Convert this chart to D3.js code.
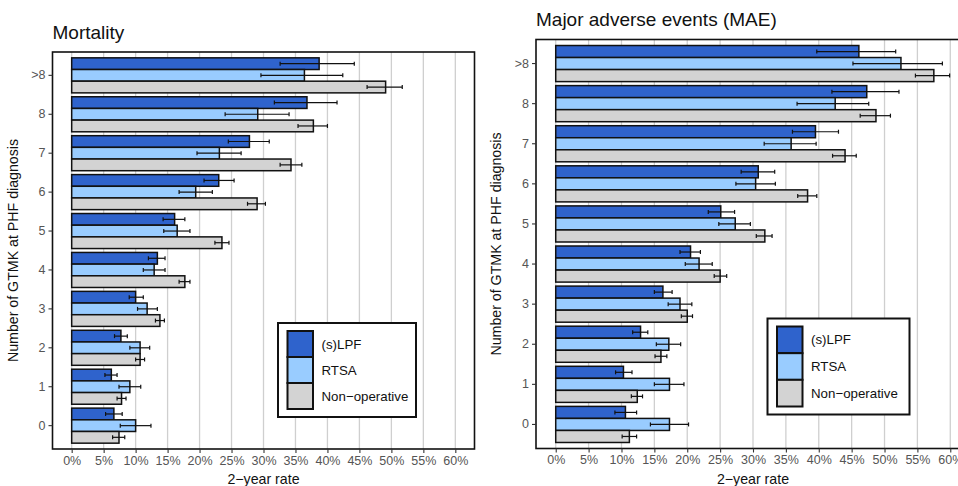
<!DOCTYPE html>
<html>
<head>
<meta charset="utf-8">
<script src="https://cdn.jsdelivr.net/npm/d3@7"></script>
<style>
  html, body { margin: 0; padding: 0; background: #fff; }
  svg { display: block; font-family: "Liberation Sans", Arial, sans-serif; }
</style>
</head>
<body>
<svg id="chart" width="958" height="486"></svg>
<script>
// GTMK count at PHF diagnosis, top row first
const categories = [">8", "8", "7", "6", "5", "4", "3", "2", "1", "0"];
const groups = ["(s)LPF", "RTSA", "Non\u2212operative"];
const xTicks = [0, 5, 10, 15, 20, 25, 30, 35, 40, 45, 50, 55, 60];

// Mortality: 2-year rate (%) with confidence limits
const mortLPF    = [38.7, 36.8, 27.8, 23.0, 16.1, 13.4, 10.0, 7.7, 6.2, 6.6];
const mortLPFLo  = [32.6, 31.7, 24.5, 20.7, 14.3, 12.0, 9.0, 6.7, 5.2, 5.3];
const mortLPFHi  = [44.2, 41.5, 30.9, 25.4, 17.7, 14.6, 11.2, 8.7, 7.1, 7.9];
const mortRTSA   = [36.4, 29.1, 23.1, 19.4, 16.5, 12.9, 11.8, 10.7, 9.1, 10.0];
const mortRTSALo = [29.6, 24.0, 19.6, 16.8, 14.4, 11.2, 10.3, 9.1, 7.4, 7.6];
const mortRTSAHi = [42.4, 34.0, 26.5, 22.0, 18.5, 14.6, 13.4, 12.2, 10.8, 12.4];
const mortNon    = [49.1, 37.8, 34.3, 29.0, 23.5, 17.7, 13.8, 10.7, 7.8, 7.4];
const mortNonLo  = [46.2, 35.4, 32.6, 27.5, 22.4, 16.8, 13.1, 10.0, 7.1, 6.4];
const mortNonHi  = [51.7, 40.0, 36.0, 30.3, 24.6, 18.5, 14.5, 11.4, 8.5, 8.3];

// Major adverse events: 2-year rate (%) with confidence limits
const maeLPF    = [46.1, 47.3, 39.5, 30.8, 25.1, 20.5, 16.3, 12.9, 10.3, 10.6];
const maeLPFLo  = [39.7, 42.0, 36.0, 28.2, 23.2, 18.9, 15.0, 11.7, 9.1, 9.0];
const maeLPFHi  = [51.7, 52.2, 43.0, 33.3, 27.2, 22.0, 17.7, 14.0, 11.6, 12.3];
const maeRTSA   = [52.5, 42.5, 35.8, 30.4, 27.3, 21.8, 18.9, 17.2, 17.3, 17.3];
const maeRTSALo = [45.2, 36.7, 31.7, 27.4, 24.8, 19.7, 17.1, 15.3, 15.0, 14.4];
const maeRTSAHi = [58.8, 47.6, 39.6, 33.4, 29.6, 23.8, 20.7, 19.0, 19.5, 20.2];
const maeNon    = [57.5, 48.7, 44.0, 38.3, 31.8, 25.0, 20.0, 16.0, 12.4, 11.2];
const maeNonLo  = [54.7, 46.3, 42.1, 36.8, 30.5, 24.1, 19.1, 15.1, 11.5, 10.1];
const maeNonHi  = [59.9, 50.9, 45.7, 39.7, 32.9, 26.0, 20.8, 16.9, 13.2, 12.3];

const colors = ["#2f63cc", "#99ccff", "#d3d3d3"];

function rows(vals, lo, hi) {
  return categories.map((c, i) => ({ cat: c, v: vals[i], lo: lo[i], hi: hi[i] }));
}

const panels = [
  {
    title: "Mortality",
    box: { x0: 52.5, x1: 474.5, y0: 52, y1: 449 },
    titleY: 39,
    yTitleX: 18,
    legend: { x: 278, y: 323, w: 138, h: 94 },
    series: [rows(mortLPF, mortLPFLo, mortLPFHi), rows(mortRTSA, mortRTSALo, mortRTSAHi), rows(mortNon, mortNonLo, mortNonHi)]
  },
  {
    title: "Major adverse events (MAE)",
    box: { x0: 536, x1: 970, y0: 39.5, y1: 448.5 },
    titleY: 26,
    yTitleX: 501,
    legend: { x: 767.5, y: 318.5, w: 142, h: 96 },
    series: [rows(maeLPF, maeLPFLo, maeLPFHi), rows(maeRTSA, maeRTSALo, maeRTSAHi), rows(maeNon, maeNonLo, maeNonHi)]
  }
];

const svg = d3.select("#chart");

panels.forEach(p => {
  const b = p.box;
  const g = svg.append("g");
  const span = (b.x1 - b.x0) / 1.1;          // 5% expansion each side
  const x = d3.scaleLinear().domain([0, 60]).range([b.x0 + span * 0.05, b.x1 - span * 0.05]);
  const y = d3.scaleBand().domain(categories).range([b.y0, b.y1]).paddingInner(0.1).paddingOuter(0.15);
  const ySub = d3.scaleBand().domain(d3.range(groups.length)).range([0, y.bandwidth()]);

  // panel background and vertical grid
  g.append("rect").attr("x", b.x0).attr("y", b.y0).attr("width", b.x1 - b.x0).attr("height", b.y1 - b.y0)
    .attr("fill", "#fff");
  g.append("g").selectAll("line").data(xTicks).join("line")
    .attr("x1", d => x(d)).attr("x2", d => x(d))
    .attr("y1", b.y0).attr("y2", b.y1)
    .attr("stroke", "#cfcfcf").attr("stroke-width", 1.3);

  // bars
  p.series.forEach((s, k) => {
    g.append("g").selectAll("rect").data(s).join("rect")
      .attr("x", x(0))
      .attr("y", d => y(d.cat) + ySub(k))
      .attr("width", d => x(d.v) - x(0))
      .attr("height", ySub.bandwidth())
      .attr("fill", colors[k])
      .attr("stroke", "#111").attr("stroke-width", 1.5);
  });

  // error bars
  p.series.forEach((s, k) => {
    const eg = g.append("g").attr("stroke", "#111").attr("stroke-width", 1.2);
    s.forEach(d => {
      const cy = y(d.cat) + ySub(k) + ySub.bandwidth() / 2;
      eg.append("line").attr("x1", x(d.lo)).attr("x2", x(d.hi)).attr("y1", cy).attr("y2", cy);
      eg.append("line").attr("x1", x(d.lo)).attr("x2", x(d.lo)).attr("y1", cy - 2).attr("y2", cy + 2);
      eg.append("line").attr("x1", x(d.hi)).attr("x2", x(d.hi)).attr("y1", cy - 2).attr("y2", cy + 2);
    });
  });

  // panel border
  g.append("rect").attr("x", b.x0).attr("y", b.y0).attr("width", b.x1 - b.x0).attr("height", b.y1 - b.y0)
    .attr("fill", "none").attr("stroke", "#111").attr("stroke-width", 1.6);

  // axes
  const xAxis = g.append("g").attr("transform", `translate(0,${b.y1})`)
    .call(d3.axisBottom(x).tickValues(xTicks).tickFormat(d => d + "%").tickSize(4).tickPadding(3));
  const yAxis = g.append("g").attr("transform", `translate(${b.x0},0)`)
    .call(d3.axisLeft(y).tickSize(4).tickPadding(3));
  [xAxis, yAxis].forEach(a => {
    a.select(".domain").remove();
    a.selectAll(".tick line").attr("stroke", "#333").attr("stroke-width", 1.1);
    a.selectAll(".tick text").attr("fill", "#555").attr("font-size", 12.5)
      .attr("font-family", "Liberation Sans, Arial, sans-serif");
  });

  // titles
  g.append("text").attr("x", b.x0).attr("y", p.titleY).attr("font-size", 19).attr("fill", "#111")
    .text(p.title);
  g.append("text").attr("x", (b.x0 + Math.min(b.x1, 958 + 12)) / 2 + (p.box.x1 > 958 ? 0 : 0))
    .attr("x", (x(0) + x(60)) / 2)
    .attr("y", 484).attr("text-anchor", "middle").attr("font-size", 14.2).attr("fill", "#111")
    .text("2\u2212year rate");
  g.append("text")
    .attr("transform", `translate(${p.yTitleX},${(b.y0 + b.y1) / 2}) rotate(-90)`)
    .attr("text-anchor", "middle").attr("font-size", 14.2).attr("fill", "#111")
    .text("Number of GTMK at PHF diagnosis");

  // legend
  const L = p.legend;
  const lg = g.append("g");
  lg.append("rect").attr("x", L.x).attr("y", L.y).attr("width", L.w).attr("height", L.h)
    .attr("fill", "#fff").attr("stroke", "#111").attr("stroke-width", 2);
  const keyW = 25.5, keyH = (L.h - 16) / 3;
  groups.forEach((name, k) => {
    const ky = L.y + 8 + k * keyH;
    lg.append("rect").attr("x", L.x + 9.5).attr("y", ky).attr("width", keyW).attr("height", keyH)
      .attr("fill", colors[k]).attr("stroke", "#111").attr("stroke-width", 2);
    lg.append("text").attr("x", L.x + 9.5 + keyW + 8.5).attr("y", ky + keyH / 2)
      .attr("dy", "0.35em").attr("font-size", 13.3).attr("fill", "#111").text(name);
  });
});
</script>
</body>
</html>
